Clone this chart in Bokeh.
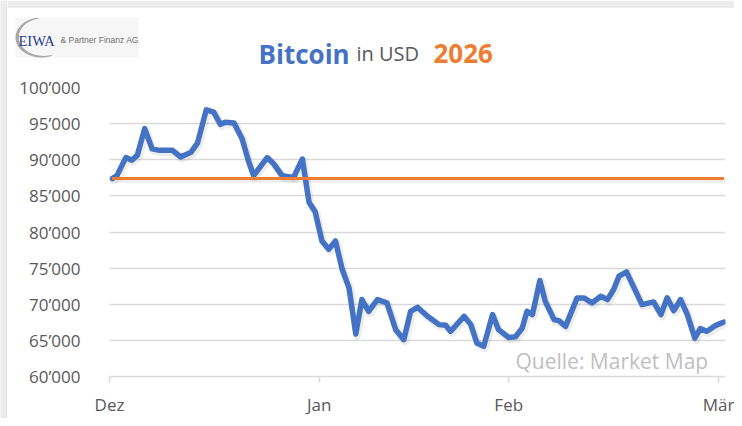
from bokeh.plotting import figure
from bokeh.models import FixedTicker, Label
from bokeh.layouts import row, column
from bokeh.core.properties import value
from bokeh.embed import file_html
from bokeh.resources import INLINE
import numpy as np

# ---------------- data ----------------
# days since 1 Dec (x position of each reading)
tage = [0.4, 1.1, 2.4, 3.3, 4.1, 5.2, 6.3, 7.4, 9.3, 10.5, 12.0, 13.0, 14.3, 15.4,
        16.4, 17.1, 18.4, 19.6, 20.6, 21.3, 23.3, 24.3, 25.5, 27.2, 28.5, 29.5,
        30.4, 31.4, 32.4, 33.4, 34.4, 35.4, 36.4, 37.3, 38.3, 39.6, 41.0, 42.3,
        43.5, 44.5, 45.5, 47.0, 48.7, 49.7, 50.4, 52.4, 53.4, 54.3, 55.3, 56.6,
        57.5, 59.0, 60.0, 61.0, 61.7, 62.5, 63.6, 64.4, 65.7, 66.4, 67.4, 69.1,
        70.1, 71.3, 72.6, 73.6, 74.5, 75.3, 76.4, 78.0, 78.7, 80.4, 81.5, 82.4,
        83.4, 84.4, 85.4, 86.5, 87.3, 88.3, 89.6, 90.8]
# Bitcoin price in USD
kurs = [87400, 87800, 90300, 89950, 90600, 94300, 91500, 91300, 91300, 90400,
        91000, 92300, 96900, 96600, 94900, 95200, 95100, 92900, 89650, 87800,
        90300, 89400, 87800, 87550, 90100, 84070, 82800, 78750, 77600, 78750,
        74800, 72260, 65870, 70650, 69030, 70650, 70180, 66480, 65100, 69030,
        69580, 68330, 67180, 67080, 66250, 68330, 67180, 64630, 64170, 68560,
        66480, 65400, 65500, 66710, 69030, 68560, 73290, 70400, 67870, 67730,
        66940, 70880, 70880, 70180, 71110, 70650, 72040, 73890, 74490, 71340,
        69950, 70320, 68560, 70880, 69120, 70650, 68560, 65320, 66620, 66250,
        67080, 67540]
# reference level (start of 2026)
referenz_2026 = 87400

monat_ticks = [0, 31, 59, 90]
monat_labels = ["Dez", "Jan", "Feb", "Mär"]
y_ticks = [60000, 65000, 70000, 75000, 80000, 85000, 90000, 95000, 100000]
y_labels = ["60’000", "65’000", "70’000", "75’000", "80’000", "85’000",
            "90’000", "95’000", "100’000"]

# ---------------- geometry ----------------
TOTAL_W, TOTAL_H = 734, 418
STRIP_W = 7
MAIN_W = TOTAL_W - STRIP_W
HDR_H = 70
MAIN_H = TOTAL_H - HDR_H

PX_DAY = (718 - 109) / 90.0
PX_VAL = 40000 / 289.0


def dx(xr):
    return (xr - 109) / PX_DAY


def dy(yr):
    return 100000 - (yr - 87) * PX_VAL


# ---------------- left frame strip ----------------
strip = figure(width=STRIP_W, height=TOTAL_H, x_range=(0, STRIP_W),
               y_range=(TOTAL_H, 0), output_backend="svg", toolbar_location=None,
               min_border=0, x_axis_type=None, y_axis_type=None,
               background_fill_color="#ececec", border_fill_color="#ececec")
strip.outline_line_color = None
strip.grid.visible = False
strip.frame_align = False
strip.quad(left=[6], right=[7], top=[6], bottom=[TOTAL_H],
           fill_color="#d9d9d9", line_color=None)

# ---------------- header (logo + title) ----------------
hdr = figure(width=MAIN_W, height=HDR_H, x_range=(STRIP_W, TOTAL_W),
             y_range=(HDR_H, 0), output_backend="svg", toolbar_location=None,
             min_border=0, x_axis_type=None, y_axis_type=None,
             background_fill_color="white", border_fill_color="white")
hdr.outline_line_color = None
hdr.grid.visible = False
hdr.frame_align = False
# top frame band
hdr.quad(left=[STRIP_W], right=[TOTAL_W], top=[0], bottom=[6],
         fill_color="#ececec", line_color=None)
hdr.quad(left=[STRIP_W], right=[TOTAL_W], top=[6], bottom=[7],
         fill_color="#d9d9d9", line_color=None)
# logo
hdr.quad(left=[15], right=[138], top=[17], bottom=[57],
         fill_color="#f6f6f6", line_color=None)
ang = np.radians(np.linspace(100, 292, 60))
ox = 41 + 26 * np.cos(ang)
oy = 37 - 20 * np.sin(ang)
ix = 42.8 + 24.5 * np.cos(ang[::-1])
iy = 36.6 - 18.8 * np.sin(ang[::-1])
hdr.patch(np.concatenate([ox, ix]), np.concatenate([oy, iy]),
          fill_color="#9a9a9a", fill_alpha=0.85, line_color=None)
hdr.text(x=[18], y=[40], text=["EIWA"], text_font=value("Liberation Serif"),
         text_font_size="14.5px", text_color="#23408e", text_baseline="alphabetic")
hdr.text(x=[60], y=[39.5], text=["& Partner Finanz AG"],
         text_font=value("Liberation Sans"), text_font_size="8.5px",
         text_color="#707070", text_baseline="alphabetic")
# title
hdr.text(x=[258], y=[53], text=["Bitcoin"], text_font=value("Open Sans"),
         text_font_style="bold", text_font_size="26px", text_color="#4472C4",
         text_baseline="alphabetic")
hdr.text(x=[356], y=[53], text=["in USD"], text_font=value("Open Sans"),
         text_font_size="20px", text_color="#595959", text_baseline="alphabetic")
hdr.text(x=[433], y=[53], text=["2026"], text_font=value("Open Sans"),
         text_font_style="bold", text_font_size="26px", text_color="#ED7D31",
         text_baseline="alphabetic")

# ---------------- main chart ----------------
p = figure(width=MAIN_W, height=MAIN_H, output_backend="svg", toolbar_location=None,
           x_range=(0, dx(725)), y_range=(60000, 100000),
           min_border_left=109 - STRIP_W, min_border_right=TOTAL_W - 725,
           min_border_top=87 - HDR_H, min_border_bottom=TOTAL_H - 376,
           background_fill_color="white", border_fill_color="white")
p.outline_line_color = None
p.frame_align = False

p.xgrid.grid_line_color = None
p.ygrid.ticker = FixedTicker(ticks=y_ticks)
p.ygrid.grid_line_color = "#d9d9d9"
p.ygrid.grid_line_width = 1.6

p.yaxis.ticker = FixedTicker(ticks=y_ticks)
p.yaxis.major_label_overrides = {t: l for t, l in zip(y_ticks, y_labels)}
p.yaxis.axis_line_color = None
p.yaxis.major_tick_line_color = None
p.yaxis.minor_tick_line_color = None
p.yaxis.major_label_standoff = 23
p.yaxis.major_label_text_font = "Open Sans"
p.yaxis.major_label_text_font_size = "17px"
p.yaxis.major_label_text_color = "#595959"

p.xaxis.ticker = FixedTicker(ticks=monat_ticks)
p.xaxis.major_label_overrides = {t: l for t, l in zip(monat_ticks, monat_labels)}
p.xaxis.axis_line_color = "#d9d9d9"
p.xaxis.axis_line_width = 1.6
p.xaxis.major_tick_line_color = "#d9d9d9"
p.xaxis.major_tick_line_width = 1.6
p.xaxis.major_tick_out = 6
p.xaxis.major_tick_in = 0
p.xaxis.minor_tick_line_color = None
p.xaxis.major_label_standoff = 10
p.xaxis.major_label_text_font = "Open Sans"
p.xaxis.major_label_text_font_size = "17px"
p.xaxis.major_label_text_color = "#595959"

t_arr = np.array(tage)
k_arr = np.array(kurs)
# soft shadow
p.line(t_arr + 0.2, k_arr - 1.8 * PX_VAL, line_color="black", line_alpha=0.07,
       line_width=8, line_join="round", line_cap="round")
p.line([tage[0] + 0.2, tage[-1] + 0.2],
       [referenz_2026 - 1.8 * PX_VAL, referenz_2026 - 1.8 * PX_VAL],
       line_color="black", line_alpha=0.07, line_width=5)

p.line(tage, kurs, line_color="#4472C4", line_width=5.5,
       line_join="round", line_cap="round")
p.line([tage[0], tage[-1]], [referenz_2026, referenz_2026],
       line_color="#ED7D31", line_width=3)

p.add_layout(Label(x=dx(515), y=dy(360), text="Quelle: Market Map",
                   text_font="Open Sans", text_font_size="21px",
                   text_color="#bfbfbf", text_baseline="alphabetic"))

layout = row(strip, column(hdr, p, spacing=0), spacing=0)
open("out.html", "w").write(file_html(layout, INLINE))
